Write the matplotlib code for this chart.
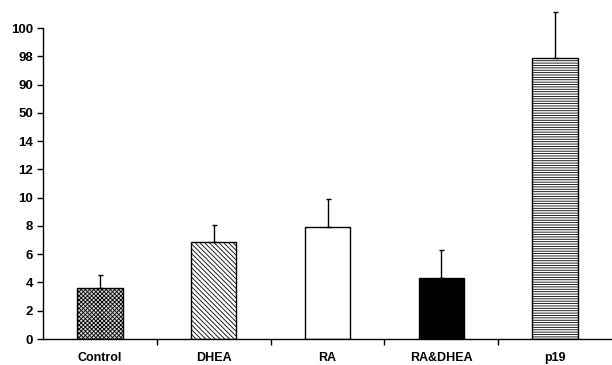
import matplotlib
matplotlib.use("Agg")
import matplotlib.pyplot as plt
import numpy as np

# groups and values (read in drawn axis units, ticks every 2 units)
groups = ["Control", "DHEA", "RA", "RA&DHEA", "p19"]
means = [3.6, 6.85, 7.9, 4.3, 19.9]
errs = [0.9, 1.2, 2.0, 2.0, 3.2]
tick_labels = ["0", "2", "4", "6", "8", "10", "12", "14", "50", "90", "98", "100"]

fills = ["#d8d8d8", "white", "white", "black", "white"]
hatches = ["xxxxxxxx", "\\\\\\\\\\\\\\", "", "", "-------"]

plt.rcParams["font.family"] = ["Liberation Sans", "DejaVu Sans"]
plt.rcParams["hatch.linewidth"] = 0.6

fig = plt.figure(figsize=(6.12, 3.65), dpi=100)
ax = fig.add_axes([0.0703, 0.0712, 0.9297, 0.852])

x = np.arange(len(groups))
bars = ax.bar(x, means, width=0.4, color=fills, edgecolor="black", linewidth=1.0, zorder=2)
for b, h in zip(bars, hatches):
    b.set_hatch(h)

ax.errorbar(x, means, yerr=[np.zeros(len(errs)), errs], fmt="none", ecolor="black",
            elinewidth=1.0, capsize=1.8, capthick=1.0, zorder=3, clip_on=False)

ax.set_xlim(-0.5, len(groups) - 0.5)
ax.set_ylim(0, 22)
ax.set_yticks(np.arange(0, 23, 2))
ax.set_yticklabels(tick_labels, fontsize=9.5, fontweight="bold")
ax.set_xticks(x)
ax.set_xticklabels(groups, fontsize=9, fontweight="bold")
ax.tick_params(axis="x", which="major", length=0, pad=9)
ax.set_xticks(np.arange(0.5, len(groups) - 0.5, 1.0), minor=True)
ax.tick_params(axis="x", which="minor", length=4, width=1.0, direction="out")
ax.tick_params(axis="y", length=4, width=1.0, direction="out", pad=3)

ax.spines["top"].set_visible(False)
ax.spines["right"].set_visible(False)
ax.spines["left"].set_linewidth(1.0)
ax.spines["bottom"].set_linewidth(1.0)

fig.savefig("out.png", dpi=100)
